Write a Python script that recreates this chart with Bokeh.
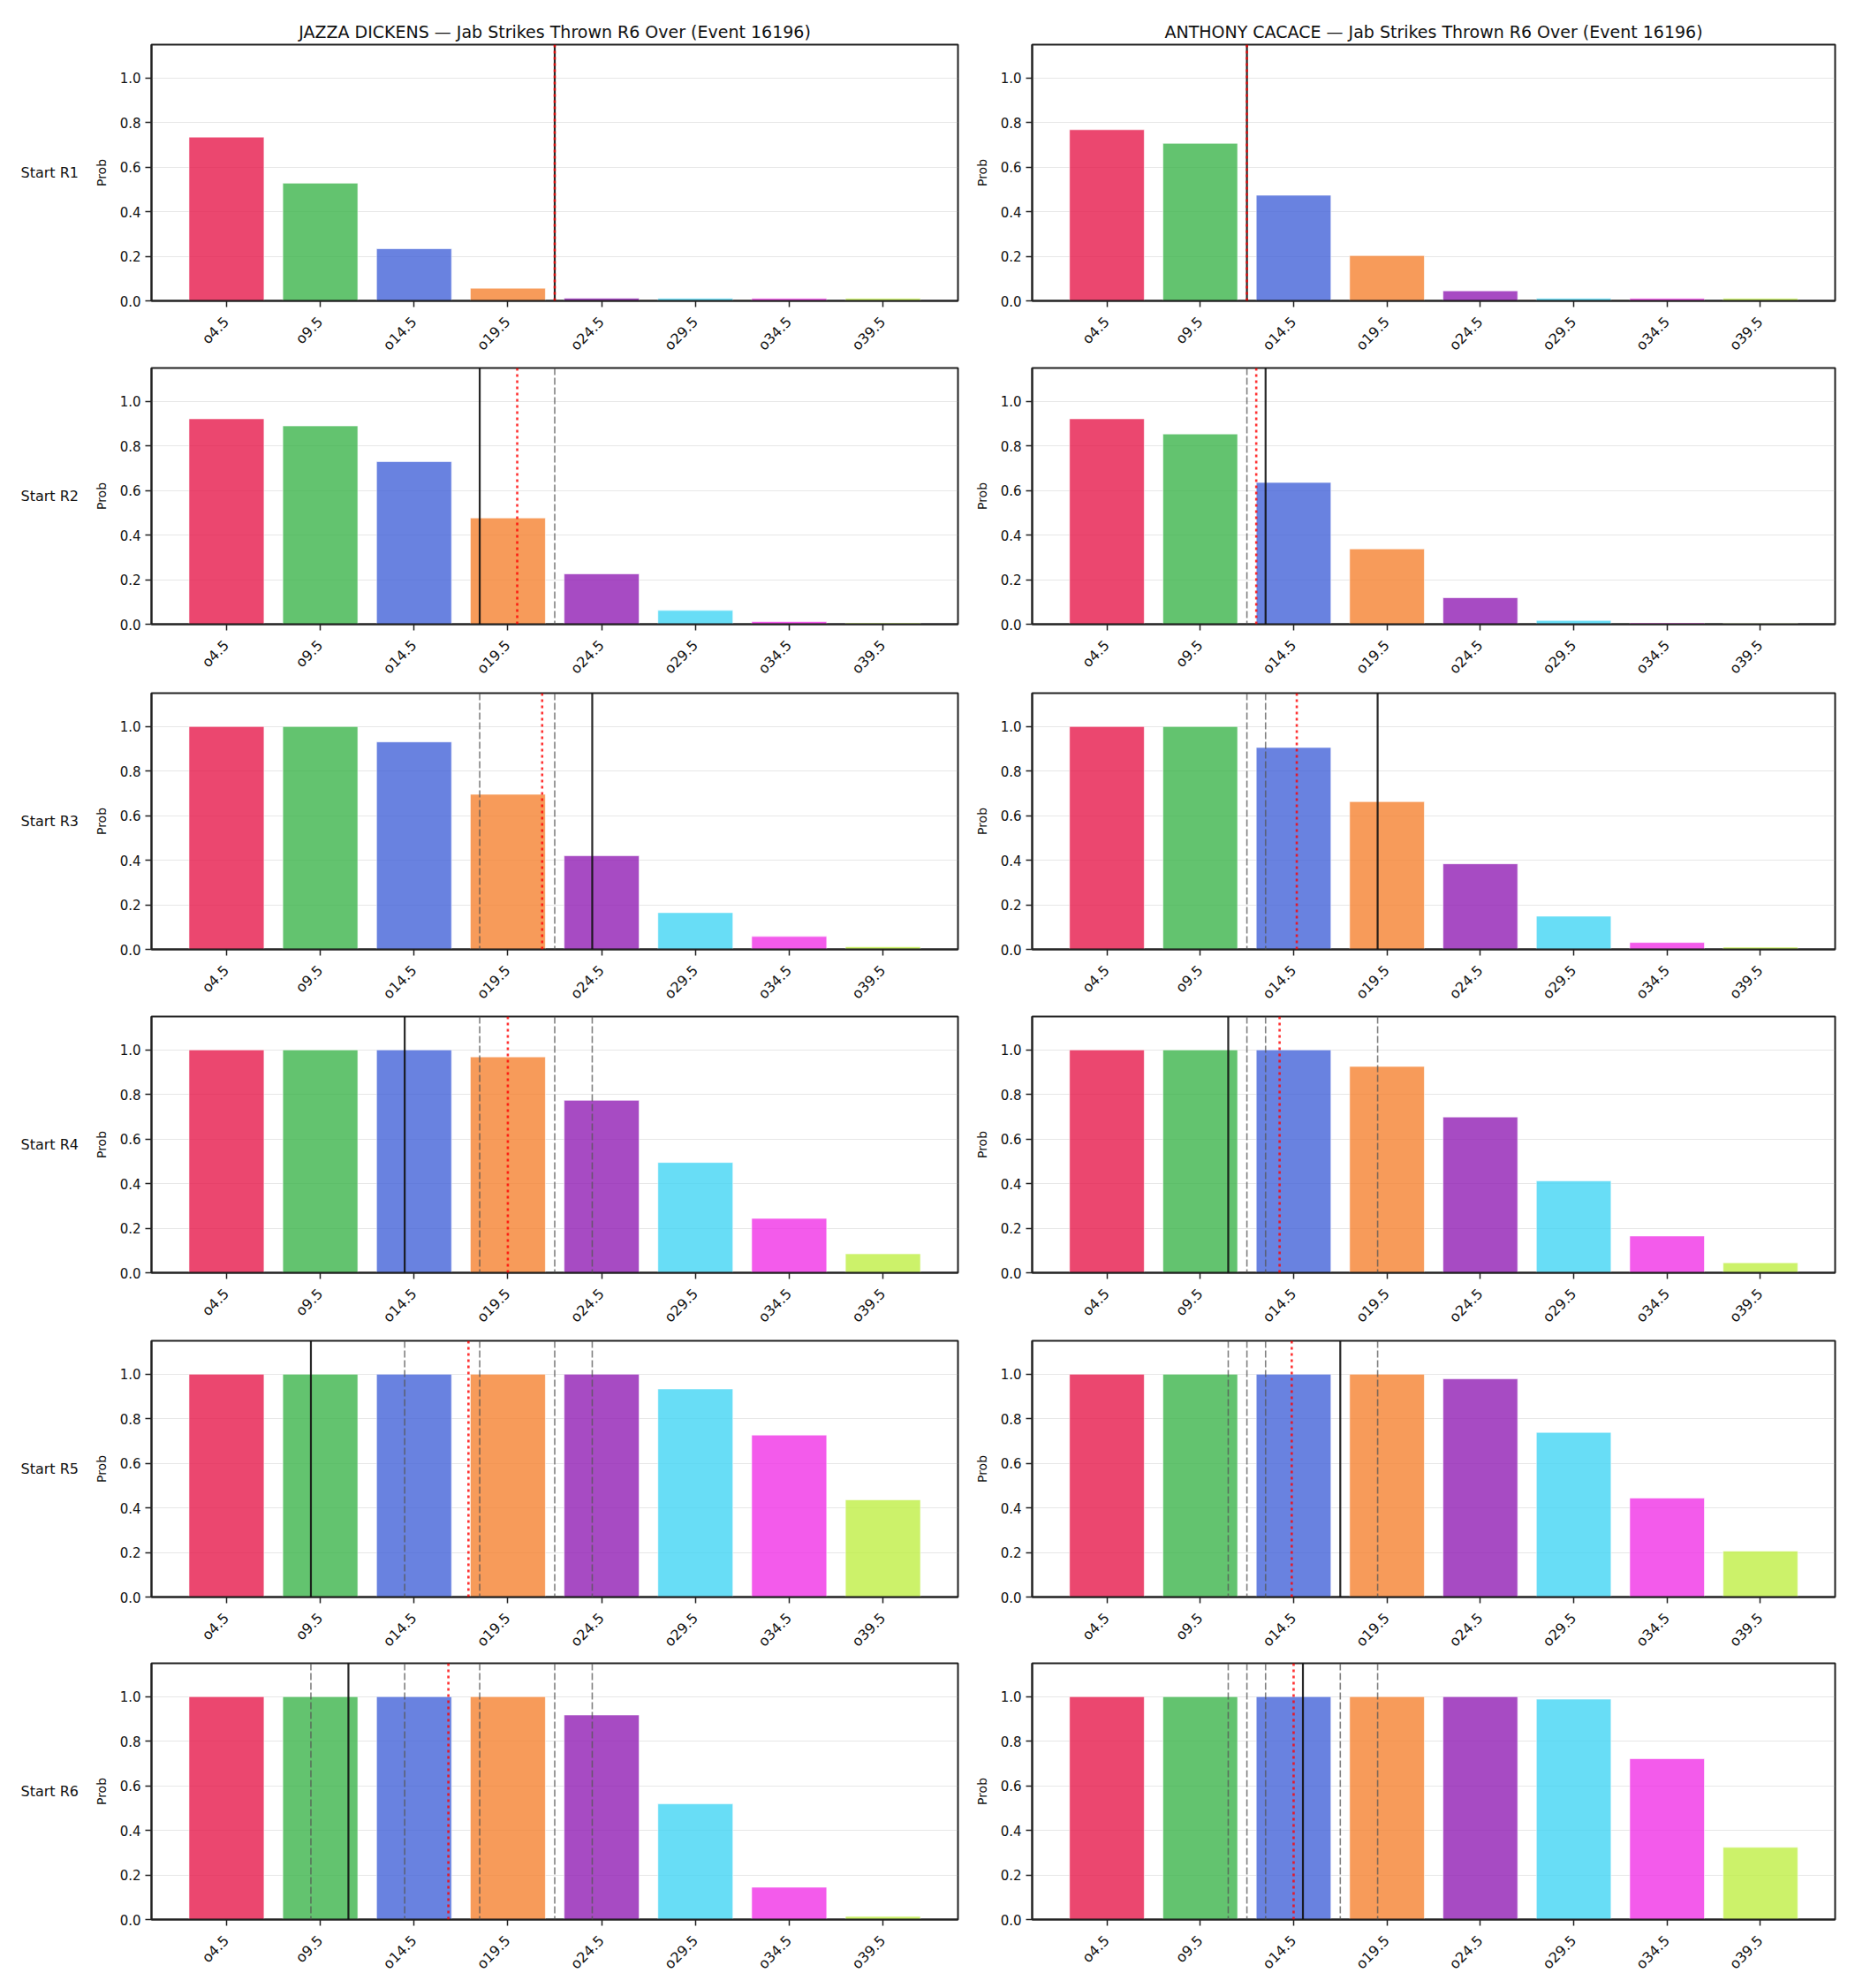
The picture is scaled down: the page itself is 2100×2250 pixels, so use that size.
import math
from bokeh.plotting import figure
from bokeh.models import (Range1d, FixedTicker, Span, ColumnDataSource,
                          PrintfTickFormatter)
from bokeh.core.properties import value
from bokeh.layouts import column, row
from bokeh.embed import file_html
from bokeh.resources import INLINE

# ---------------- data ----------------
thresholds = [4.5, 9.5, 14.5, 19.5, 24.5, 29.5, 34.5, 39.5]
tick_labels = ["o4.5", "o9.5", "o14.5", "o19.5", "o24.5", "o29.5", "o34.5", "o39.5"]
round_labels = ["Start R1", "Start R2", "Start R3", "Start R4", "Start R5", "Start R6"]
fighters = ["JAZZA DICKENS", "ANTHONY CACACE"]
title_suffix = " \u2014 Jab Strikes Thrown R6 Over (Event 16196)"
bar_colors = ["#e6194b", "#3cb44b", "#4363d8", "#f58231",
              "#911eb4", "#42d4f4", "#f032e6", "#bfef45"]

dickens_probs = [
    [0.735, 0.528, 0.234, 0.057, 0.012, 0.011, 0.011, 0.011],
    [0.922, 0.890, 0.730, 0.477, 0.226, 0.062, 0.012, 0.006],
    [1.000, 1.000, 0.931, 0.696, 0.420, 0.165, 0.058, 0.012],
    [1.000, 1.000, 1.000, 0.969, 0.774, 0.495, 0.244, 0.085],
    [1.000, 1.000, 1.000, 1.000, 1.000, 0.934, 0.727, 0.436],
    [1.000, 1.000, 1.000, 1.000, 0.918, 0.519, 0.145, 0.014],
]
cacace_probs = [
    [0.768, 0.707, 0.474, 0.203, 0.045, 0.011, 0.011, 0.011],
    [0.922, 0.854, 0.636, 0.338, 0.119, 0.017, 0.006, 0.004],
    [1.000, 1.000, 0.906, 0.663, 0.384, 0.149, 0.031, 0.010],
    [1.000, 1.000, 1.000, 0.926, 0.699, 0.412, 0.165, 0.045],
    [1.000, 1.000, 1.000, 1.000, 0.979, 0.739, 0.444, 0.206],
    [1.000, 1.000, 1.000, 1.000, 1.000, 0.989, 0.722, 0.324],
]
# per-round actual (solid black), running average (red dotted)
dickens_actual = [22, 18, 24, 14, 9, 11]
dickens_avg = [22, 20, 21.33, 19.5, 17.4, 16.33]
cacace_actual = [12, 13, 19, 11, 17, 15]
cacace_avg = [12, 12.5, 14.67, 13.75, 14.4, 14.5]

probs_by_fighter = [dickens_probs, cacace_probs]
actual_by_fighter = [dickens_actual, cacace_actual]
avg_by_fighter = [dickens_avg, cacace_avg]

# ---------------- style ----------------
FONT = "DejaVu Sans"
DARK = "#222222"
FRAME_H = 290
top_borders = [50, 3, 5, 3, 4, 2]
BOTTOM = 73
LABEL_W = 100


def make_label_fig(r):
    h = top_borders[r] + FRAME_H + BOTTOM
    p = figure(width=LABEL_W, height=h, output_backend="svg", toolbar_location=None,
               x_range=Range1d(0, LABEL_W), y_range=Range1d(0, 1.15),
               min_border_left=0, min_border_right=0,
               min_border_top=top_borders[r], min_border_bottom=BOTTOM)
    p.axis.visible = False
    p.grid.visible = False
    p.outline_line_color = None
    p.background_fill_color = "white"
    p.border_fill_color = "white"
    src = ColumnDataSource(dict(x=[23], y=[0.575], t=[round_labels[r]]))
    p.text(x="x", y="y", text="t", source=src, text_font=value(FONT),
           text_font_size="16px", text_color="#111111",
           text_align="left", text_baseline="middle")
    return p


def make_panel(c, r):
    left = (c == 0)
    w = 1000
    mbl = 71 if left else 67
    mbr = 16 if left else 23
    h = top_borders[r] + FRAME_H + BOTTOM
    kw = dict(width=w, height=h, output_backend="svg", toolbar_location=None,
              x_range=Range1d(0.5, 43.5), y_range=Range1d(0, 1.15),
              min_border_left=mbl, min_border_right=mbr,
              min_border_top=top_borders[r], min_border_bottom=BOTTOM)
    if r == 0:
        kw["title"] = fighters[c] + title_suffix
    p = figure(**kw)
    p.background_fill_color = "white"
    p.border_fill_color = "white"
    if r == 0:
        p.title.align = "center"
        p.title.text_font = FONT
        p.title.text_font_size = "19px"
        p.title.text_font_style = "normal"
        p.title.text_color = "#111111"
        p.title.standoff = 8

    src = ColumnDataSource(dict(x=thresholds, top=probs_by_fighter[c][r],
                                color=bar_colors))
    p.vbar(x="x", top="top", width=4, bottom=0, source=src,
           fill_color="color", fill_alpha=0.8, line_color="white", line_width=0.6)

    # previous rounds' actuals: grey dashed
    for v in actual_by_fighter[c][:r]:
        p.add_layout(Span(location=v, dimension="height", line_color="#555555",
                          line_alpha=0.75, line_width=1.6, line_dash="8 3"))
    p.add_layout(Span(location=actual_by_fighter[c][r], dimension="height",
                      line_color="#111111", line_alpha=0.9, line_width=2.2))
    p.add_layout(Span(location=avg_by_fighter[c][r], dimension="height",
                      line_color="red", line_alpha=0.8, line_width=2.6,
                      line_dash="3 4"))

    # axes
    p.xaxis.ticker = FixedTicker(ticks=thresholds)
    p.xaxis.major_label_overrides = {t: lab for t, lab in zip(thresholds, tick_labels)}
    p.xaxis.major_label_orientation = math.pi / 4
    p.yaxis.ticker = FixedTicker(ticks=[0.0, 0.2, 0.4, 0.6, 0.8, 1.0])
    p.yaxis.formatter = PrintfTickFormatter(format="%.1f")
    p.yaxis.axis_label = "Prob"
    p.yaxis.axis_label_text_font = FONT
    p.yaxis.axis_label_text_font_size = "14px"
    p.yaxis.axis_label_text_font_style = "normal"
    p.yaxis.axis_label_text_color = "#111111"
    p.yaxis.axis_label_standoff = 10
    for ax in (p.xaxis, p.yaxis):
        ax.axis_line_color = DARK
        ax.axis_line_width = 2
        ax.major_tick_line_color = DARK
        ax.major_tick_line_width = 1.5
        ax.major_tick_out = 7
        ax.major_tick_in = 0
        ax.minor_tick_line_color = None
        ax.major_label_text_font = FONT
        ax.major_label_text_color = "#111111"
    p.yaxis.major_label_text_font_size = "15px"
    p.yaxis.major_label_standoff = 5
    p.xaxis.major_label_text_font_size = "16px"
    p.xaxis.major_label_standoff = 14

    p.xgrid.visible = False
    p.ygrid.ticker = FixedTicker(ticks=[0.0, 0.2, 0.4, 0.6, 0.8, 1.0])
    p.ygrid.grid_line_color = "#b0b0b0"
    p.ygrid.grid_line_alpha = 0.3
    p.ygrid.grid_line_width = 1

    p.outline_line_color = DARK
    p.outline_line_width = 2
    p.outline_line_alpha = 1
    return p


rows = []
for r in range(6):
    rows.append(row(make_label_fig(r), make_panel(0, r), make_panel(1, r)))
layout = column(*rows)

open("out.html", "w").write(file_html(layout, INLINE))
